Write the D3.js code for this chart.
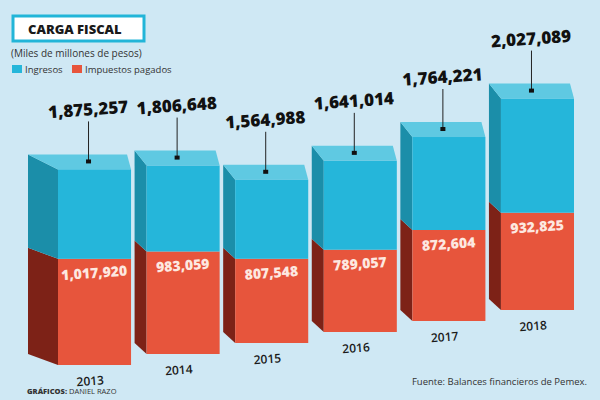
<!DOCTYPE html>
<html><head><meta charset="utf-8">
<script src="https://cdn.jsdelivr.net/npm/d3@7"></script>
<style>body{margin:0;background:#cfe8f4;} text{font-family:"Open Sans",sans-serif;}</style>
</head><body><div id="chart"></div>
<script>
var years = ['2013', '2014', '2015', '2016', '2017', '2018'];
var ingresos = [1875257, 1806648, 1564988, 1641014, 1764221, 2027089];
var impuestos = [1017920, 983059, 807548, 789057, 872604, 932825];

var width = 600, height = 400;
var fmt = d3.format(',');

var svg = d3.select('#chart').append('svg')
    .attr('width', width).attr('height', height);

svg.append('rect').attr('width', width).attr('height', height).attr('fill', '#cfe8f4');

var xScale = d3.scaleBand().domain(years).range([46, 574]).paddingInner(0.04);
var hScale = d3.scaleLinear().domain([0, 2100000]).range([0, 219]);
// perspective: bars further right sit higher
var baseScale = d3.scaleLinear().domain([0, years.length - 1]).range([365, 310]);

var side = 12, depth = 15;

years.forEach(function (year, i) {
    var x0 = xScale(year) + side, x1 = xScale(year) + xScale.bandwidth();
    var base = baseScale(i);
    var mid = base - hScale(impuestos[i]);
    var top = base - hScale(ingresos[i]);
    var g = svg.append('g');
    var sw = i === 0 ? 30 : side;
    // side faces
    g.append('polygon').attr('fill', '#7d2217')
        .attr('points', [[x0 - sw, base - depth + 4], [x0, base], [x0, mid], [x0 - sw, mid - depth + 4]].join(' '));
    g.append('polygon').attr('fill', '#1b8ea9')
        .attr('points', [[x0 - sw, mid - depth + 4], [x0, mid], [x0, top], [x0 - sw, top - depth]].join(' '));
    // top
    g.append('polygon').attr('fill', '#5fc9e2')
        .attr('points', [[x0, top], [x1, top], [x1 - 4, top - depth], [x0 - sw, top - depth]].join(' '));
    // fronts
    g.append('rect').attr('x', x0).attr('y', mid).attr('width', x1 - x0).attr('height', base - mid).attr('fill', '#e7553c');
    g.append('rect').attr('x', x0).attr('y', top).attr('width', x1 - x0).attr('height', mid - top).attr('fill', '#25b6da');

    var cx = (x0 + x1) / 2 - 6;
    g.append('line').attr('x1', cx).attr('x2', cx).attr('y1', top - 8).attr('y2', top - 48)
        .attr('stroke', '#222').attr('stroke-width', 1);
    g.append('rect').attr('x', cx - 2.5).attr('y', top - 10).attr('width', 5).attr('height', 4).attr('fill', '#111');
    g.append('text').attr('x', cx).attr('y', top - 54)
        .attr('text-anchor', 'middle').attr('transform', 'rotate(-4,' + cx + ',' + (top - 54) + ')')
        .style('font-size', '17px').style('font-weight', 800).attr('fill', '#111')
        .text(fmt(ingresos[i]));
    g.append('text').attr('x', (x0 + x1) / 2).attr('y', mid + 19)
        .attr('text-anchor', 'middle').attr('transform', 'rotate(-4,' + ((x0 + x1) / 2) + ',' + (mid + 19) + ')')
        .style('font-size', '14px').style('font-weight', 800).attr('fill', '#fde8e0')
        .text(fmt(impuestos[i]));
    g.append('text').attr('x', (x0 + x1) / 2 - 4).attr('y', base + 20)
        .attr('text-anchor', 'middle').attr('transform', 'rotate(-4,' + ((x0 + x1) / 2) + ',' + (base + 20) + ')')
        .style('font-size', '12px').style('font-weight', 600).attr('fill', '#1a1a1a')
        .text(year);
});

// title
svg.append('rect').attr('x', 13).attr('y', 16).attr('width', 131).attr('height', 25)
    .attr('fill', '#fff').attr('stroke', '#22b5d8').attr('stroke-width', 3);
svg.append('text').attr('x', 28).attr('y', 34).style('font-size', '13px').style('font-weight', 800)
    .attr('fill', '#1a1a1a').text('CARGA FISCAL');
svg.append('text').attr('x', 11).attr('y', 57).style('font-size', '10px').attr('fill', '#333')
    .text('(Miles de millones de pesos)');
svg.append('rect').attr('x', 12).attr('y', 65).attr('width', 10).attr('height', 8).attr('fill', '#25b6da');
svg.append('text').attr('x', 25).attr('y', 73).style('font-size', '9.5px').attr('fill', '#333').text('Ingresos');
svg.append('rect').attr('x', 72).attr('y', 65).attr('width', 10).attr('height', 8).attr('fill', '#e7553c');
svg.append('text').attr('x', 85).attr('y', 73).style('font-size', '9.5px').attr('fill', '#333').text('Impuestos pagados');

svg.append('text').attr('x', 27).attr('y', 394).style('font-size', '7.5px').attr('fill', '#333')
    .html('<tspan font-weight="800">GRÁFICOS:</tspan> DANIEL RAZO');
svg.append('text').attr('x', 587).attr('y', 385).attr('text-anchor', 'end').style('font-size', '9.5px').attr('fill', '#333')
    .text('Fuente: Balances financieros de Pemex.');
</script></body></html>
